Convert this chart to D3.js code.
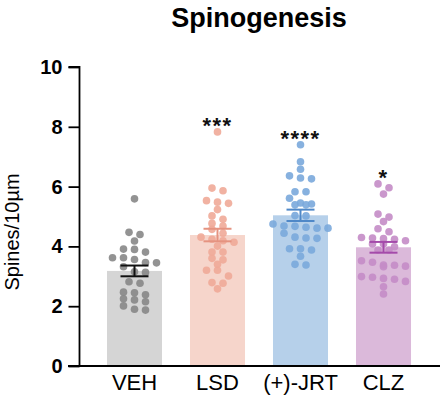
<!DOCTYPE html>
<html><head><meta charset="utf-8">
<script src="https://cdn.jsdelivr.net/npm/d3@7"></script>
<style>body{margin:0;background:#fff}svg{display:block}</style>
</head><body><svg id="c" width="440" height="398"></svg>
<script>
const categories = ["VEH", "LSD", "(+)-JRT", "CLZ"];
const means = [3.18, 4.38, 5.04, 3.97];
const sems = [0.18, 0.21, 0.19, 0.18];
const significance = ["", "***", "****", "*"];
const vehValues = [5.59, 4.47, 4.40, 4.18, 3.91, 3.90, 3.81, 3.62, 3.62, 3.56, 3.45, 3.46, 3.32, 3.13, 3.15, 2.77, 2.82, 2.45, 2.47, 2.38, 2.21, 2.25, 2.15, 2.01, 1.90, 1.87];
const lsdValues = [7.83, 5.86, 5.95, 5.44, 5.53, 5.48, 5.23, 4.91, 5.02, 4.68, 4.77, 4.57, 4.44, 4.24, 4.31, 4.19, 4.14, 4.01, 3.81, 3.81, 3.60, 3.55, 3.40, 3.20, 3.20, 3.01, 2.79, 2.77, 2.58];
const jrtValues = [7.40, 6.83, 6.58, 6.36, 6.26, 6.29, 5.83, 5.83, 5.61, 5.39, 5.39, 5.42, 5.45, 5.03, 5.02, 4.67, 4.68, 4.61, 4.64, 4.75, 4.61, 4.28, 4.31, 4.27, 4.44, 3.92, 3.88, 3.92, 3.67, 3.38, 3.40];
const clzValues = [6.09, 5.96, 5.75, 5.08, 4.98, 4.83, 4.59, 4.49, 4.26, 4.19, 4.28, 4.30, 4.24, 3.99, 4.08, 4.08, 3.88, 3.88, 3.47, 3.37, 3.38, 3.52, 3.32, 3.34, 2.83, 2.99, 2.93, 2.97, 2.90, 2.65, 2.41];
const yTicks = [0, 2, 4, 6, 8, 10];
const barColors = ["#d5d5d5", "#f6d5cb", "#b6d0ea", "#dbb9da"];
const dotColors = ["#878787", "#f0aa98", "#7aa8dc", "#c48cc6"];
const errColors = ["#111111", "#e59380", "#4f88c8", "#a44aaa"];

const groups = [vehValues, lsdValues, jrtValues, clzValues];
const svg = d3.select("#c");
const font = "Arial, 'Liberation Sans', Helvetica, sans-serif";

const x = d3.scaleBand().domain(categories).range([93, 425]).paddingInner(0.337).paddingOuter(0.1685);
const y = d3.scaleLinear().domain([0, 10]).range([366, 67]);

// title
svg.append("text").attr("x", 259).attr("y", 27).attr("text-anchor", "middle")
  .attr("font-family", font).attr("font-weight", "bold").attr("font-size", 27).text("Spinogenesis");

// bars
svg.append("g").selectAll("rect").data(categories).join("rect")
  .attr("x", d => x(d)).attr("width", x.bandwidth())
  .attr("y", (d, i) => y(means[i])).attr("height", (d, i) => y(0) - y(means[i]))
  .attr("fill", (d, i) => barColors[i]);

// swarm layout: points of similar height share a centred row
function swarm(values, cx) {
  const sorted = values.map(v => ({v, py: y(v)})).sort((a, b) => a.py - b.py);
  const rows = [];
  let cur = null;
  sorted.forEach(p => {
    if (!cur || p.py - cur.start > 5.8) { cur = {start: p.py, pts: []}; rows.push(cur); }
    cur.pts.push(p);
  });
  const step = 11;
  const out = [];
  rows.forEach(r => {
    const n = r.pts.length;
    r.pts.forEach((p, i) => out.push({v: p.v, px: cx + (i - (n - 1) / 2) * step}));
  });
  return out;
}

groups.forEach((vals, gi) => {
  const cx = x(categories[gi]) + x.bandwidth() / 2;
  svg.append("g").selectAll("circle").data(swarm(vals, cx)).join("circle")
    .attr("cx", d => d.px).attr("cy", d => y(d.v)).attr("r", 3.8)
    .attr("fill", dotColors[gi]).attr("fill-opacity", 0.9);
});

// error bars
categories.forEach((c, i) => {
  const cx = x(c) + x.bandwidth() / 2;
  const g = svg.append("g").attr("stroke", errColors[i]).attr("stroke-width", 2).attr("fill", "none");
  const hi = y(means[i] + sems[i]), lo = y(means[i] - sems[i]);
  g.append("line").attr("x1", cx).attr("x2", cx).attr("y1", hi).attr("y2", lo);
  g.append("line").attr("x1", cx - 14).attr("x2", cx + 14).attr("y1", hi).attr("y2", hi);
  g.append("line").attr("x1", cx - 14).attr("x2", cx + 14).attr("y1", lo).attr("y2", lo);
});

// significance stars
categories.forEach((c, i) => {
  if (!significance[i]) return;
  const cx = x(c) + x.bandwidth() / 2;
  const top = y(d3.max(groups[i]));
  svg.append("text").attr("x", cx).attr("y", top + 1).attr("text-anchor", "middle")
    .attr("font-family", font).attr("font-weight", "bold").attr("font-size", 22)
    .attr("letter-spacing", 1.5).attr("fill", "#111").text(significance[i]);
});

// y axis
const yAxis = svg.append("g").attr("transform", "translate(79.5,0)")
  .call(d3.axisLeft(y).tickValues(yTicks).tickFormat(d3.format("d")).tickSize(11).tickPadding(6));
yAxis.select(".domain").attr("stroke", "#000").attr("stroke-width", 1.8).attr("d", `M-11,${y(10)}H0V${y(0)}`);
yAxis.selectAll(".tick line").attr("stroke", "#000").attr("stroke-width", 1.8);
yAxis.selectAll(".tick text").attr("font-family", font).attr("font-weight", "bold").attr("font-size", 20).attr("fill", "#000");

// x axis
const xAxis = svg.append("g").attr("transform", `translate(0,${y(0)})`)
  .call(d3.axisBottom(x).tickSize(0).tickPadding(8));
xAxis.select(".domain").attr("stroke", "#000").attr("stroke-width", 1.8).attr("d", "M68,0H440");
xAxis.selectAll(".tick text").attr("font-family", font).attr("font-size", 22).attr("fill", "#000");

// y title
svg.append("text").attr("transform", "translate(19,232) rotate(-90)").attr("text-anchor", "middle")
  .attr("font-family", font).attr("font-size", 20).text("Spines/10\u00b5m");
</script></body></html>
